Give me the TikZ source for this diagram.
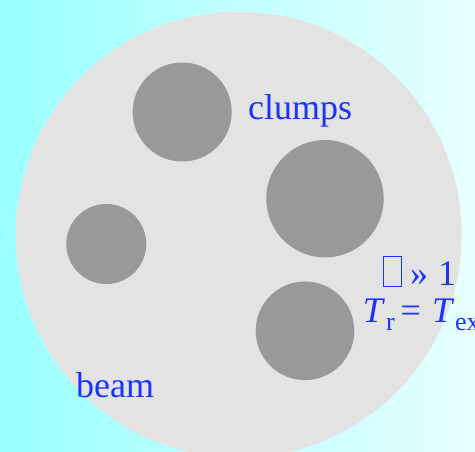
\documentclass[tikz,border=0pt]{standalone}
\usepackage{fontspec}
\setmainfont{Liberation Serif}
\definecolor{bgleft}{RGB}{153,255,255}
\definecolor{bgright}{RGB}{232,255,255}
\definecolor{beamgray}{RGB}{227,227,227}
\definecolor{clumpgray}{RGB}{153,153,153}
\definecolor{txtblue}{RGB}{26,51,255}
\tikzset{
  clump/.style={fill=clumpgray, draw=none},
  lbl/.style={text=txtblue, inner sep=0pt, anchor=base west, font=\fontsize{36}{36}\selectfont},
}
\newcommand{\subsz}[1]{\raisebox{-8pt}{\fontsize{26}{26}\selectfont #1}}
\begin{document}
\begin{tikzpicture}[x=1pt,y=-1pt]
  \useasboundingbox (0,0) rectangle (475,452);
  \shade[left color=bgleft, right color=bgright] (0,0) rectangle (475,452);
  \clip (0,0) rectangle (475,452);
  \fill[beamgray] (238.7,234.7) circle[radius=223];
  \fill[clump] (182.2,112) circle[radius=49.5];
  \fill[clump] (325,198.7) circle[radius=58.7];
  \fill[clump] (106.3,244) circle[radius=40];
  \fill[clump] (305,330.8) circle[radius=49.3];
  \node[lbl] (clumps) at (248,120) {clumps};
  \node[lbl] (beam) at (76,397) {beam};
  \node[lbl] (tau) at (382.7,286) {{\setlength{\fboxsep}{0pt}\setlength{\fboxrule}{1.4pt}\color{txtblue}\fbox{\rule{0pt}{29pt}\hspace{16.5pt}}}\kern8pt»\kern10pt1};
  \node[lbl] (temp) at (362.7,323) {\textit{T}\kern1pt\subsz{r}\kern6pt=\kern11pt\textit{T}\kern1pt\subsz{ex}};
\end{tikzpicture}
\end{document}
